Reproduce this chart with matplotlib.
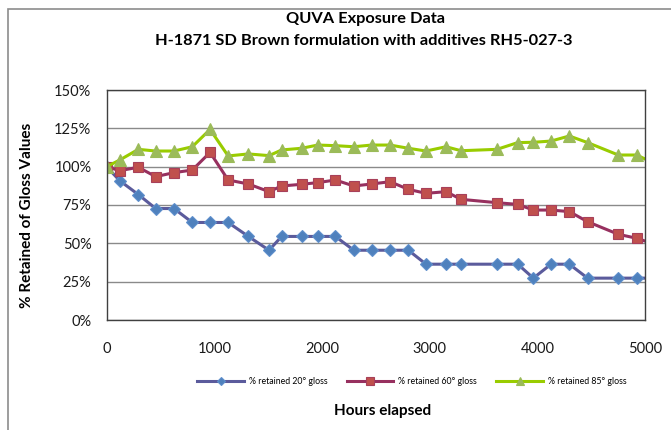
import matplotlib
matplotlib.use("Agg")
import matplotlib.pyplot as plt
from matplotlib.patches import Rectangle
from matplotlib.ticker import FuncFormatter, MultipleLocator

plt.rcParams['font.family'] = ['Lato', 'DejaVu Sans']

hours = [0, 120, 294, 455, 625, 795, 960, 1128, 1316, 1508, 1625, 1811, 1960,
         2124, 2295, 2461, 2632, 2802, 2966, 3152, 3291, 3625, 3818, 3963,
         4127, 4297, 4467, 4752, 4923, 5090]

gloss20 = [100, 90.9, 81.8, 72.7, 72.7, 63.6, 63.6, 63.6, 54.5, 45.5, 54.5,
           54.5, 54.5, 54.5, 45.5, 45.5, 45.5, 45.5, 36.4, 36.4, 36.4, 36.4,
           36.4, 27.3, 36.4, 36.4, 27.3, 27.3, 27.3, 27.3]
gloss60 = [100, 97.4, 99.6, 93.5, 96.1, 97.8, 109.3, 91.3, 88.7, 83.7, 87.4,
           88.5, 89.6, 91.3, 87.4, 88.7, 90.2, 85.2, 82.6, 83.7, 78.7, 76.5,
           75.4, 71.7, 71.7, 70.7, 64.1, 55.9, 53.3, 49.4]
gloss85 = [100, 104.3, 111.3, 110.2, 110.2, 113, 124.3, 107, 108.3, 107.2,
           110.9, 112, 114.1, 113.7, 113, 114.1, 114.1, 112, 110.2, 113, 110.4,
           111.3, 115.7, 115.9, 116.7, 120, 115.7, 107.6, 107.6, 102]

labels = ['% retained 20° gloss', '% retained 60° gloss', '% retained 85° gloss']

fig = plt.figure(figsize=(6.71, 4.30), dpi=100)
ax = fig.add_axes([106.7 / 671, 1 - 320 / 430, (645 - 106.7) / 671, (320 - 90) / 430])

# outer chart frame
fig.patches.append(Rectangle((8 / 671, -0.05), 1.1, 1 - 9 / 430 + 0.05,
                             transform=fig.transFigure, fill=False,
                             edgecolor='#8c8c8c', linewidth=1.2))

l1, = ax.plot(hours, gloss20, color='#5b5b9c', lw=2.2, marker='D', ms=6.5,
              mfc='#4f81bd', mec='#5e8fcc', mew=0.8)
l2, = ax.plot(hours, gloss60, color='#97305f', lw=2.2, marker='s', ms=7.5,
              mfc='#c0504d', mec='#a8405a', mew=0.8)
l3, = ax.plot(hours, gloss85, color='#99cc00', lw=2.2, marker='^', ms=8.5,
              mfc='#9bbb59', mec='#9bbb59', mew=0.8)

ax.set_xlim(0, 5000)
ax.set_ylim(0, 150)
ax.xaxis.set_major_locator(MultipleLocator(1000))
ax.yaxis.set_major_locator(MultipleLocator(25))
ax.yaxis.set_major_formatter(FuncFormatter(lambda v, p: f'{v:.0f}%'))
ax.grid(axis='y', color='#8a8a8a', lw=1)
ax.set_axisbelow(True)
for s in ax.spines.values():
    s.set_color('#404040')
    s.set_linewidth(1)
ax.tick_params(axis='both', length=0, labelsize=10.5, colors='#1a1a1a')
ax.tick_params(axis='x', pad=16)
ax.tick_params(axis='y', pad=11)

fig.text(365 / 671, 1 - 19 / 430, 'QUVA Exposure Data', ha='center', va='center',
         fontsize=11.8, fontweight='bold')
fig.text(364 / 671, 1 - 41 / 430, 'H-1871 SD Brown formulation with additives RH5-027-3',
         ha='center', va='center', fontsize=11.8, fontweight='bold')
fig.text(27 / 671, 1 - 215 / 430, '% Retained of Gloss Values', rotation=90,
         ha='center', va='center', fontsize=11, fontweight='bold')
fig.text(383 / 671, 1 - 411 / 430, 'Hours elapsed', ha='center', va='center',
         fontsize=11, fontweight='bold')

fig.legend([l1, l2, l3], labels, loc='center', bbox_to_anchor=(412 / 671, 1 - 382 / 430),
           ncol=3, frameon=False, fontsize=6.3, handlelength=5.3, columnspacing=2.2,
           handletextpad=0.6, markerscale=0.7)

fig.savefig('out.png', dpi=100)
